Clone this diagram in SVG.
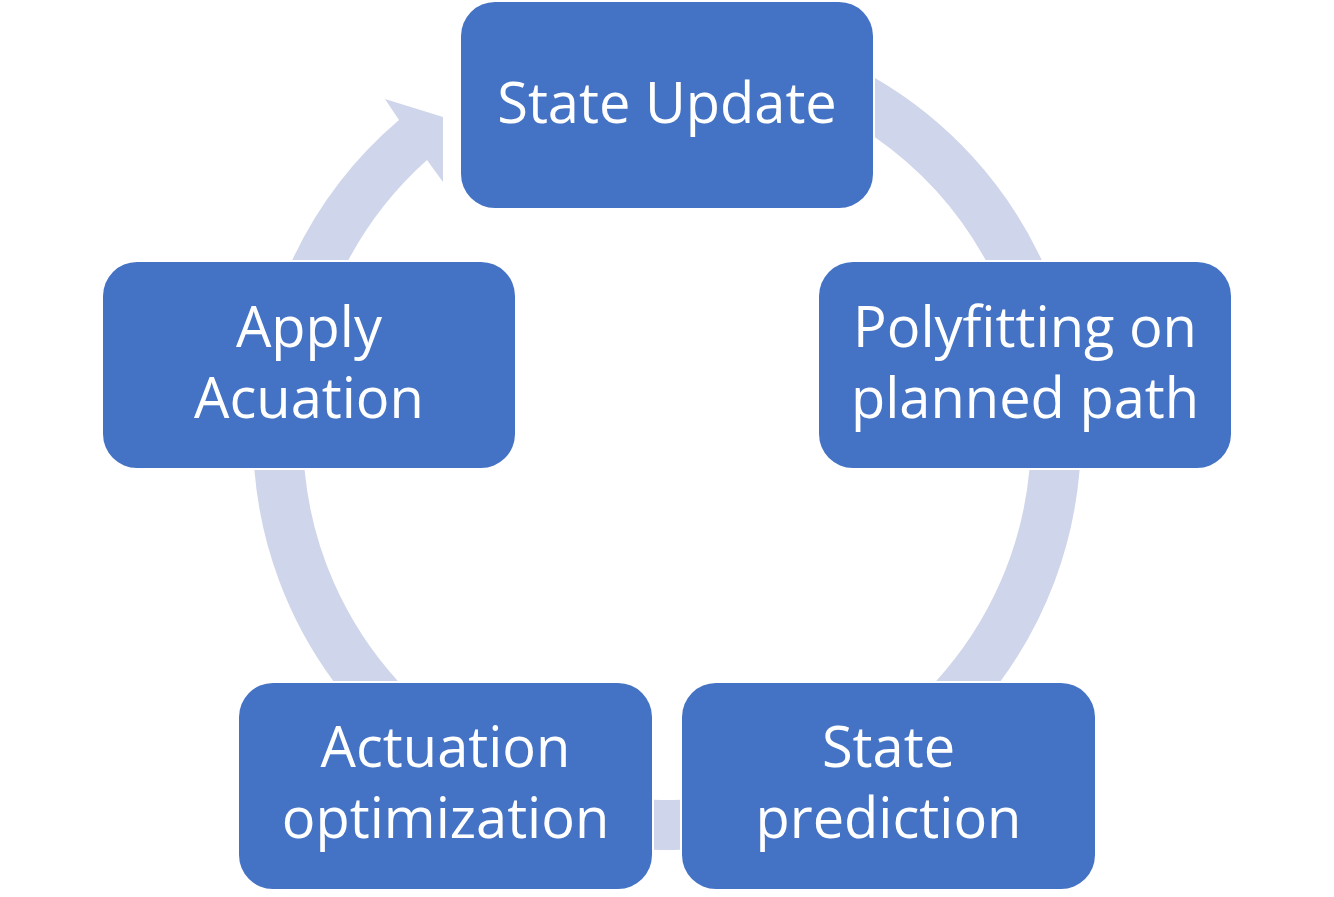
<svg xmlns="http://www.w3.org/2000/svg" width="1334" height="897" viewBox="0 0 1334 897">
<style>
.arc{fill:#CFD5EA;stroke:none}
.box{fill:#4472C4;stroke:none}
.t{fill:#FFFFFF;font-family:"Open Sans","Liberation Sans",sans-serif;font-size:56px;text-anchor:middle}
</style>
<rect width="1334" height="897" fill="#FFFFFF"/>
<g id="connectors">
<path class="arc" d="M875,78 A414,414 0 0 1 1041.7,260 L985.6,260 A364,364 0 0 0 875,137.3 Z"/>
<path class="arc" d="M1079.6,470 A414,414 0 0 1 1000.7,681 L936.2,681 A364,364 0 0 0 1029.4,470 Z"/>
<path class="arc" d="M680,849.8 A414,414 0 0 1 654,849.8 L654,799.8 A364,364 0 0 0 680,799.8 Z"/>
<path class="arc" d="M333.3,681 A414,414 0 0 1 254.4,470 L304.6,470 A364,364 0 0 0 397.8,681 Z"/>
<path class="arc" d="M292.3,260 A414,414 0 0 1 399,120 L385,99 L443,117 L443,182 L427,160 A364,364 0 0 0 348.4,260 Z"/>
</g>
<g id="node-state-update">
<rect class="box" x="461" y="2" width="412" height="206" rx="34"/>
<text class="t" x="667" y="123">State Update</text>
</g>
<g id="node-polyfitting">
<rect class="box" x="819" y="262" width="412" height="206" rx="34"/>
<text class="t" x="1025" y="347">Polyfitting on</text>
<text class="t" x="1025" y="418">planned path</text>
</g>
<g id="node-state-prediction">
<rect class="box" x="682" y="683" width="413" height="206" rx="34"/>
<text class="t" x="888.5" y="767">State</text>
<text class="t" x="888.5" y="838">prediction</text>
</g>
<g id="node-actuation-optimization">
<rect class="box" x="239" y="683" width="413" height="206" rx="34"/>
<text class="t" x="445.5" y="767">Actuation</text>
<text class="t" x="445.5" y="838">optimization</text>
</g>
<g id="node-apply-acuation">
<rect class="box" x="103" y="262" width="412" height="206" rx="34"/>
<text class="t" x="309" y="347">Apply</text>
<text class="t" x="309" y="418">Acuation</text>
</g>
</svg>
